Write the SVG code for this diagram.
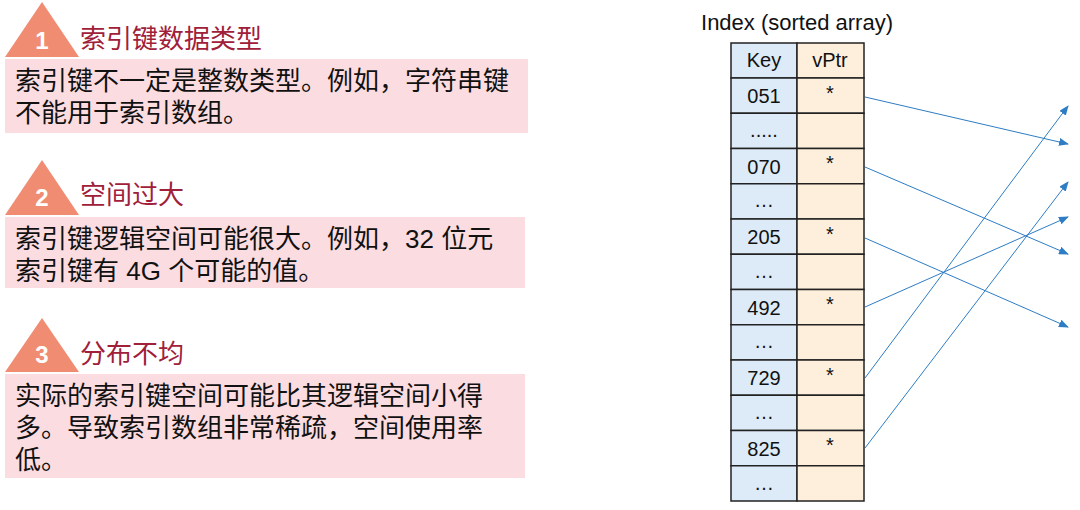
<svg xmlns="http://www.w3.org/2000/svg" width="1080" height="510" viewBox="0 0 1080 510">
<defs>
<style>
.tri{fill:#F08C72}
.num{font:bold 24px "Liberation Sans",sans-serif;fill:#fff;text-anchor:middle}
.ttl{font:26px "Liberation Sans","Noto Sans CJK SC",sans-serif;fill:#A0203A}
.box{fill:#FBDDE1}
.body{font:26px "Liberation Sans","Noto Sans CJK SC",sans-serif;fill:#111}
.k{fill:#DDEBF8;stroke:#222;stroke-width:1.5}
.p{fill:#FEEFDD;stroke:#222;stroke-width:1.5}
.t{font:20px "Liberation Sans",sans-serif;fill:#111;text-anchor:middle}
.h{font:22px "Liberation Sans",sans-serif;fill:#111;text-anchor:middle}
.a{stroke:#2E7CC4;stroke-width:1;fill:none;marker-end:url(#ah)}
</style>
<marker id="ah" markerWidth="10" markerHeight="8" refX="9" refY="4" orient="auto" markerUnits="userSpaceOnUse"><path d="M0,0L10,4L0,8z" fill="#2E7CC4"/></marker>
</defs>
<g id="p1">
<polygon class="tri" points="42,2 5,57 79,57"/><text class="num" x="42" y="49">1</text>
<text class="ttl" x="80" y="48">索引键数据类型</text>
<rect class="box" x="5" y="59" width="523" height="74"/>
<text class="body" x="15" y="90">索引键不一定是整数类型。例如，字符串键</text>
<text class="body" x="15" y="122">不能用于索引数组。</text>
</g>
<g id="p2">
<polygon class="tri" points="42,160 5,215 79,215"/><text class="num" x="42" y="206">2</text>
<text class="ttl" x="80" y="204">空间过大</text>
<rect class="box" x="5" y="217" width="520" height="71"/>
<text class="body" x="15" y="248">索引键逻辑空间可能很大。例如，32 位元</text>
<text class="body" x="15" y="280">索引键有 4G 个可能的值。</text>
</g>
<g id="p3">
<polygon class="tri" points="42,318 5,372 79,372"/><text class="num" x="42" y="363">3</text>
<text class="ttl" x="80" y="363">分布不均</text>
<rect class="box" x="5" y="374" width="520" height="104"/>
<text class="body" x="15" y="405">实际的索引键空间可能比其逻辑空间小得</text>
<text class="body" x="15" y="437">多。导致索引数组非常稀疏，空间使用率</text>
<text class="body" x="15" y="469">低。</text>
</g>
<g id="index">
<text class="h" x="797" y="30">Index (sorted array)</text>
<rect class="k" x="731" y="43" width="66" height="35"/><rect class="p" x="797" y="43" width="67" height="35"/>
<text class="t" x="764" y="67">Key</text><text class="t" x="830" y="67">vPtr</text>
<rect class="k" x="731" y="78" width="66" height="35.25"/><rect class="p" x="797" y="78" width="67" height="35.25"/>
<rect class="k" x="731" y="113.25" width="66" height="35.25"/><rect class="p" x="797" y="113.25" width="67" height="35.25"/>
<rect class="k" x="731" y="148.5" width="66" height="35.25"/><rect class="p" x="797" y="148.5" width="67" height="35.25"/>
<rect class="k" x="731" y="183.75" width="66" height="35.25"/><rect class="p" x="797" y="183.75" width="67" height="35.25"/>
<rect class="k" x="731" y="219" width="66" height="35.25"/><rect class="p" x="797" y="219" width="67" height="35.25"/>
<rect class="k" x="731" y="254.25" width="66" height="35.25"/><rect class="p" x="797" y="254.25" width="67" height="35.25"/>
<rect class="k" x="731" y="289.5" width="66" height="35.25"/><rect class="p" x="797" y="289.5" width="67" height="35.25"/>
<rect class="k" x="731" y="324.75" width="66" height="35.25"/><rect class="p" x="797" y="324.75" width="67" height="35.25"/>
<rect class="k" x="731" y="360" width="66" height="35.25"/><rect class="p" x="797" y="360" width="67" height="35.25"/>
<rect class="k" x="731" y="395.25" width="66" height="35.25"/><rect class="p" x="797" y="395.25" width="67" height="35.25"/>
<rect class="k" x="731" y="430.5" width="66" height="35.25"/><rect class="p" x="797" y="430.5" width="67" height="35.25"/>
<rect class="k" x="731" y="465.75" width="66" height="35.25"/><rect class="p" x="797" y="465.75" width="67" height="35.25"/>
<text class="t" x="764" y="103">051</text><text class="t" x="830" y="100">*</text>
<text class="t" x="764" y="137">.....</text>
<text class="t" x="764" y="174">070</text><text class="t" x="830" y="170">*</text>
<text class="t" x="764" y="207">…</text>
<text class="t" x="764" y="244">205</text><text class="t" x="830" y="241">*</text>
<text class="t" x="764" y="278">…</text>
<text class="t" x="764" y="315">492</text><text class="t" x="830" y="311">*</text>
<text class="t" x="764" y="348">…</text>
<text class="t" x="764" y="385">729</text><text class="t" x="830" y="382">*</text>
<text class="t" x="764" y="419">…</text>
<text class="t" x="764" y="456">825</text><text class="t" x="830" y="452">*</text>
<text class="t" x="764" y="490">…</text>
</g>
<g id="connectors">
<line class="a" x1="865" y1="97" x2="1068" y2="144"/>
<line class="a" x1="865" y1="167" x2="1068" y2="254"/>
<line class="a" x1="865" y1="238" x2="1068" y2="327"/>
<line class="a" x1="865" y1="307" x2="1068" y2="217"/>
<line class="a" x1="865" y1="378" x2="1068" y2="106"/>
<line class="a" x1="865" y1="448" x2="1068" y2="182"/>
</g>
</svg>
